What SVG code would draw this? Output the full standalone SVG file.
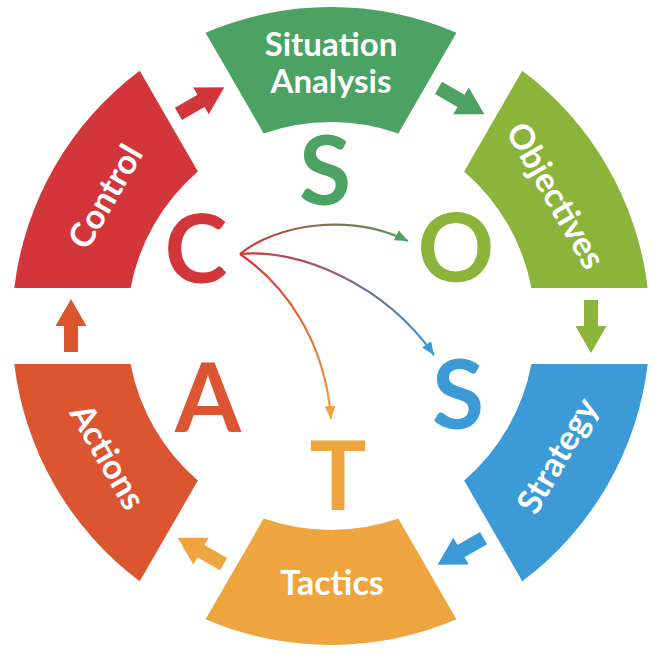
<svg xmlns="http://www.w3.org/2000/svg" xmlns:xlink="http://www.w3.org/1999/xlink" width="658" height="656" viewBox="0 0 658 656">
<style>
.lbl{font-family:Lato,"Open Sans","Liberation Sans",sans-serif;font-weight:700;font-size:34px;fill:#fff;text-anchor:middle}
.lbl2{font-family:Lato,"Open Sans","Liberation Sans",sans-serif;font-weight:700;font-size:33px;fill:#fff;text-anchor:middle}
.big{font-family:Lato,"Open Sans","Liberation Sans",sans-serif;font-weight:700;font-size:95px;text-anchor:middle}
.cv{fill:none;stroke-width:2.2}
</style>
<defs>
<path id="seg" d="M-125.45,-293.29 A319,319 0 0 1 125.45,-293.29 L67.31,-192.57 A204,204 0 0 0 -67.31,-192.57 Z"/>
<path id="arr" d="M-26,-7 L0,-7 L0,-15.5 L27,0 L0,15.5 L0,7 L-26,7 Z"/>
<linearGradient id="gO" gradientUnits="userSpaceOnUse" x1="240" y1="254" x2="408" y2="241">
<stop offset="0" stop-color="#D3363A"/><stop offset="1" stop-color="#4BA263"/>
</linearGradient>
<linearGradient id="gS" gradientUnits="userSpaceOnUse" x1="240" y1="254" x2="434" y2="355">
<stop offset="0" stop-color="#D3363A"/><stop offset="1" stop-color="#3C9BD6"/>
</linearGradient>
<linearGradient id="gT" gradientUnits="userSpaceOnUse" x1="240" y1="254" x2="331" y2="419">
<stop offset="0" stop-color="#D3363A"/><stop offset="1" stop-color="#EEA43F"/>
</linearGradient>
<marker id="mG" markerUnits="userSpaceOnUse" markerWidth="14" markerHeight="12" refX="13" refY="5.5" orient="auto"><path d="M0,0 L13,5.5 L0,11 Z" fill="#4BA263"/></marker>
<marker id="mB" markerUnits="userSpaceOnUse" markerWidth="14" markerHeight="12" refX="13" refY="5.5" orient="auto"><path d="M0,0 L13,5.5 L0,11 Z" fill="#3C9BD6"/></marker>
<marker id="mT" markerUnits="userSpaceOnUse" markerWidth="14" markerHeight="12" refX="13" refY="5.5" orient="auto"><path d="M0,0 L13,5.5 L0,11 Z" fill="#EEA43F"/></marker>
</defs>
<rect width="658" height="656" fill="#fff"/>

<g id="situation">
<use href="#seg" transform="translate(331,326)" fill="#4BA263"/>
<text class="lbl2" x="331" y="56">Situation</text>
<text class="lbl2" x="331" y="93">Analysis</text>
</g>
<g id="objectives">
<use href="#seg" transform="translate(331,326) rotate(60)" fill="#8BB43A"/>
<text class="lbl" transform="translate(555,196) rotate(60)" x="0" y="11">Objectives</text>
</g>
<g id="strategy">
<use href="#seg" transform="translate(331,326) rotate(120)" fill="#3C9BD6"/>
<text class="lbl" transform="translate(558,456) rotate(-60)" x="0" y="11">Strategy</text>
</g>
<g id="tactics">
<use href="#seg" transform="translate(331,326) rotate(180)" fill="#EEA43F"/>
<text class="lbl" x="332" y="595">Tactics</text>
</g>
<g id="actions">
<use href="#seg" transform="translate(331,326) rotate(240)" fill="#DB5531"/>
<text class="lbl" transform="translate(107,457) rotate(60)" x="0" y="11">Actions</text>
</g>
<g id="control">
<use href="#seg" transform="translate(331,326) rotate(300)" fill="#D3363A"/>
<text class="lbl" transform="translate(106,197) rotate(-60)" x="0" y="11">Control</text>
</g>

<g id="letters">
<text class="big" x="325" y="205" fill="#4BA263">S</text>
<text class="big" x="456" y="282" fill="#8BB43A">O</text>
<text class="big" x="458" y="429" fill="#3C9BD6">S</text>
<text class="big" x="338" y="510" fill="#EEA43F">T</text>
<text class="big" x="208" y="432" fill="#DB5531">A</text>
<text class="big" x="196" y="283" fill="#D3363A">C</text>
</g>

<g id="connectors">
<use href="#arr" transform="translate(331,326) rotate(-120) translate(260,0) rotate(90)" fill="#D3363A"/>
<use href="#arr" transform="translate(331,326) rotate(-60) translate(260,0) rotate(90)" fill="#4BA263"/>
<use href="#arr" transform="translate(331,326) rotate(0) translate(260,0) rotate(90)" fill="#8BB43A"/>
<use href="#arr" transform="translate(331,326) rotate(60) translate(260,0) rotate(90)" fill="#3C9BD6"/>
<use href="#arr" transform="translate(331,326) rotate(120) translate(260,0) rotate(90)" fill="#EEA43F"/>
<use href="#arr" transform="translate(331,326) rotate(180) translate(260,0) rotate(90)" fill="#DB5531"/>
<path class="cv" d="M240,254 C275,225 348,212 408,241" stroke="url(#gO)" marker-end="url(#mG)"/>
<path class="cv" d="M240,254 C300,248 385,285 434,355" stroke="url(#gS)" marker-end="url(#mB)"/>
<path class="cv" d="M240,254 C285,285 325,340 331,419" stroke="url(#gT)" marker-end="url(#mT)"/>
</g>
</svg>
